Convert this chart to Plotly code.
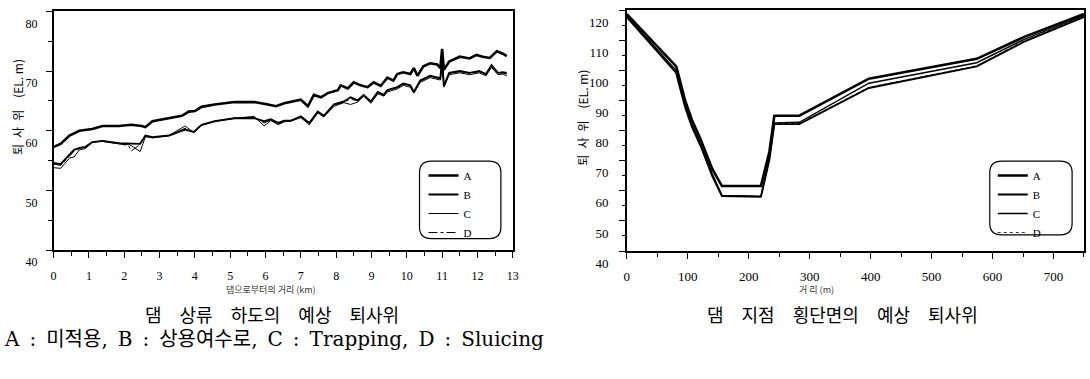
import plotly.graph_objects as go

W, H = 1090, 379


def px(x):
    return x / W


def py(y):
    return 1 - y / H


# ---------------- Left chart: predicted sediment level along the upstream channel
dist_A = [0.0, 0.2, 0.45, 0.73, 1.1, 1.38, 1.85, 2.2, 2.5, 2.6, 2.8, 3.27, 3.63, 3.83, 4.0,
          4.19, 4.56, 5.12, 5.68, 6.07, 6.3, 6.53, 6.72, 7.0, 7.2, 7.37, 7.57, 7.76, 8.05,
          8.13, 8.33, 8.5, 8.69, 8.89, 9.06, 9.26, 9.45, 9.62, 9.73, 9.9, 10.1, 10.2, 10.3,
          10.47, 10.66, 10.86, 10.95, 11.0, 11.05, 11.2, 11.5, 11.78, 11.97, 12.15, 12.35,
          12.55, 12.72, 12.83]
elev_A = [57.3, 57.8, 59.2, 60.0, 60.3, 60.8, 60.8, 61.0, 60.8, 60.6, 61.6, 62.1, 62.5, 63.2,
          63.3, 64.0, 64.4, 64.8, 64.8, 64.4, 64.1, 64.6, 64.8, 65.2, 64.1, 66.0, 65.6, 66.3,
          66.8, 67.6, 67.1, 68.1, 67.6, 67.3, 68.1, 67.5, 68.9, 68.4, 69.5, 69.8, 69.5, 70.5,
          69.2, 70.8, 71.3, 71.1, 70.5, 73.7, 70.2, 71.6, 72.4, 72.1, 72.7, 72.4, 72.2, 73.3,
          72.9, 72.5]

dist_BCD = [0.0, 0.2, 0.45, 0.58, 0.73, 0.9, 1.1, 1.38, 1.85, 2.13, 2.2, 2.45, 2.6, 2.8, 3.27,
            3.72, 3.97, 4.19, 4.56, 5.12, 5.68, 5.96, 6.15, 6.36, 6.53, 6.72, 7.0, 7.24, 7.48,
            7.65, 7.94, 8.22, 8.41, 8.61, 8.78, 8.98, 9.18, 9.35, 9.45, 9.73, 9.9, 10.1, 10.2,
            10.38, 10.66, 10.86, 10.95, 11.0, 11.05, 11.2, 11.5, 11.78, 12.05, 12.24, 12.4,
            12.58, 12.72, 12.83]
elev_B = [54.6, 54.4, 56.0, 56.8, 57.1, 57.3, 58.1, 58.3, 57.9, 57.8, 57.8, 57.8, 59.2, 58.9,
          59.2, 60.2, 59.8, 61.0, 61.6, 62.1, 62.1, 61.6, 61.9, 61.3, 61.7, 61.7, 62.4, 61.3,
          63.2, 62.5, 64.4, 64.9, 65.6, 65.1, 66.0, 64.9, 66.5, 66.0, 66.8, 67.3, 67.9, 67.6,
          66.5, 68.4, 69.2, 68.9, 68.8, 72.0, 67.5, 69.7, 70.0, 69.7, 70.0, 69.5, 71.0, 69.7,
          69.8, 69.7]
elev_C = [53.8, 53.7, 55.4, 55.6, 56.8, 57.0, 58.1, 58.2, 57.8, 57.7, 57.5, 56.5, 59.0, 58.8,
          59.2, 60.8, 59.7, 60.9, 61.5, 62.1, 62.4, 60.8, 61.7, 61.0, 61.5, 61.6, 62.2, 61.0,
          63.0, 62.3, 64.1, 64.7, 64.4, 64.8, 65.8, 64.6, 66.2, 65.8, 66.5, 67.0, 67.6, 67.3,
          66.3, 68.1, 68.9, 68.6, 68.5, 71.5, 67.3, 69.4, 69.7, 69.4, 69.7, 69.2, 70.6, 69.4,
          69.5, 69.2]
elev_D = [54.4, 54.2, 55.7, 56.6, 57.0, 57.2, 58.0, 58.3, 57.9, 57.4, 56.6, 57.7, 59.1, 58.9,
          59.2, 60.4, 59.8, 61.0, 61.6, 62.1, 62.2, 61.3, 61.8, 61.2, 61.6, 61.7, 62.3, 61.2,
          63.1, 62.4, 64.3, 64.8, 65.3, 65.0, 65.9, 64.8, 66.4, 65.9, 66.7, 67.2, 67.8, 67.5,
          66.4, 68.3, 69.1, 68.8, 68.7, 71.8, 67.4, 69.6, 69.9, 69.6, 69.9, 69.4, 70.8, 69.6,
          69.7, 69.5]

# ---------------- Right chart: predicted sediment level across the dam section
cross_x = [0, 81, 86, 96, 107, 121, 140, 156, 220, 234, 242, 283, 397, 574, 652, 750]
cross_A = [118.8, 101.4, 97.6, 89.8, 83.5, 77.2, 67.4, 61.6, 61.6, 73.1, 85.0, 85.0, 97.3,
           103.9, 111.2, 118.8]
cross_B = [117.8, 99.2, 95.2, 87.6, 81.2, 75.0, 65.0, 58.3, 58.0, 70.5, 82.2, 82.2, 94.2,
           101.4, 109.6, 117.8]
cross_C = [118.2, 100.0, 96.0, 88.4, 82.0, 75.8, 65.8, 58.5, 58.2, 71.0, 82.6, 82.8, 95.8,
           102.6, 110.4, 118.3]
cross_D = [117.9, 99.5, 95.5, 87.9, 81.5, 75.3, 65.3, 58.4, 58.1, 70.8, 82.3, 82.4, 94.4,
           101.6, 109.9, 117.9]

series_names = ["A", "B", "C", "D"]
left_styles = [dict(width=2.6), dict(width=1.9), dict(width=1.0), dict(width=1.0, dash="dashdot")]
right_styles = [dict(width=2.6), dict(width=1.9), dict(width=1.4), dict(width=0.8, dash="dot")]

fig = go.Figure()
for name, ys, xs, st in zip(series_names, [elev_A, elev_B, elev_C, elev_D],
                            [dist_A, dist_BCD, dist_BCD, dist_BCD], left_styles):
    fig.add_trace(go.Scatter(x=xs, y=ys, mode="lines", name=name,
                             line=dict(color="black", **st),
                             xaxis="x", yaxis="y", legend="legend"))
for name, ys, st in zip(series_names, [cross_A, cross_B, cross_C, cross_D], right_styles):
    fig.add_trace(go.Scatter(x=cross_x, y=ys, mode="lines", name=name,
                             line=dict(color="black", **st),
                             xaxis="x2", yaxis="y2", legend="legend2"))

serif = "Liberation Serif, Times New Roman, serif"
kfont = "Noto Sans CJK KR, sans-serif"

axis_common = dict(showline=True, linecolor="black", linewidth=1.6, mirror=True,
                   showgrid=False, zeroline=False, ticks="outside", tickcolor="black",
                   tickwidth=1.3, ticklen=6, ticklabeloverflow="allow")

fig.update_layout(
    width=W, height=H, autosize=False,
    margin=dict(l=0, r=0, t=0, b=0, pad=0),
    paper_bgcolor="white", plot_bgcolor="white",
    showlegend=True,
    xaxis=dict(domain=[px(51), px(514)], range=[0, 13], tickmode="linear", tick0=0, dtick=1,
               minor=dict(dtick=0.5, ticklen=4, tickcolor="black", ticks="outside"),
               tickfont=dict(family=serif, size=12, color="black"),
               ticklabelstandoff=8, anchor="y", **axis_common),
    yaxis=dict(domain=[py(264), py(12)], range=[40, 80], tickmode="linear", tick0=40, dtick=10,
               minor=dict(dtick=5, ticklen=4, tickcolor="black", ticks="outside"),
               tickfont=dict(family=serif, size=12, color="black"),
               ticklabelshift=12, ticklabelstandoff=6, anchor="x", **axis_common),
    xaxis2=dict(domain=[px(629), 1.0], range=[0, 750], tickmode="linear", tick0=0, dtick=100,
                minor=dict(dtick=50, ticklen=4, tickcolor="black", ticks="outside"),
                tickfont=dict(family=serif, size=13, color="black"),
                ticklabelstandoff=7, anchor="y2", **axis_common),
    yaxis2=dict(domain=[py(265), py(11)], range=[40, 120], tickmode="linear", tick0=40, dtick=10,
                minor=dict(dtick=5, ticklen=3, tickcolor="black", ticks="outside"),
                tickfont=dict(family=serif, size=13, color="black"),
                ticklabelshift=12, ticklabelstandoff=8, anchor="x2", **axis_common),
    legend=dict(x=px(424), y=py(170), xanchor="left", yanchor="top",
                bgcolor="rgba(0,0,0,0)", borderwidth=0, tracegroupgap=0,
                font=dict(family=serif, size=11, color="black")),
    legend2=dict(x=px(998), y=py(170), xanchor="left", yanchor="top",
                 bgcolor="rgba(0,0,0,0)", borderwidth=0, tracegroupgap=0,
                 font=dict(family=serif, size=11, color="black")),
)


def rounded_box(x0, y0, x1, y1, r=12):
    X0, X1 = px(x0), px(x1)
    Y0, Y1 = py(y0), py(y1)
    rx, ry = r / W, r / H
    path = (f"M{X0 + rx},{Y0} L{X1 - rx},{Y0} Q{X1},{Y0} {X1},{Y0 - ry} "
            f"L{X1},{Y1 + ry} Q{X1},{Y1} {X1 - rx},{Y1} L{X0 + rx},{Y1} "
            f"Q{X0},{Y1} {X0},{Y1 + ry} L{X0},{Y0 - ry} Q{X0},{Y0} {X0 + rx},{Y0} Z")
    return dict(type="path", xref="paper", yref="paper", path=path,
                line=dict(color="black", width=1.2), fillcolor="rgba(0,0,0,0)")


fig.add_shape(rounded_box(420, 170, 502, 252))
fig.add_shape(rounded_box(995, 170, 1078, 248))

EM = "\u2003"
EN = "\u2002"
ytitle = f"퇴{EN}사{EN}위{EM}(EL. m)"
annos = [
    dict(x=px(14), y=py(113), text=ytitle, textangle=-90,
         font=dict(family=kfont, size=12, color="black")),
    dict(x=px(584), y=py(124), text=ytitle, textangle=-90,
         font=dict(family=kfont, size=12, color="black")),
    dict(x=px(270), y=py(306), text="댐으로부터의 거리 (km)",
         font=dict(family=kfont, size=9, color="#333"), borderpad=0),
    dict(x=px(820), y=py(306), text="거 리 (m)",
         font=dict(family=kfont, size=9, color="#333"), borderpad=0),
    dict(x=px(271), y=py(331), text=EM.join(["댐", "상류", "하도의", "예상", "퇴사위"]),
         font=dict(family=kfont, size=18, color="black"), borderpad=0),
    dict(x=px(846), y=py(331), text=EM.join(["댐", "지점", "횡단면의", "예상", "퇴사위"]),
         font=dict(family=kfont, size=18, color="black"), borderpad=0),
    dict(x=0, y=py(358), xanchor="left",
         text=f"A{EN}:{EN}미적용,{EN}B{EN}:{EN}상용여수로,{EN}C{EN}:{EN}Trapping,{EN}D{EN}:{EN}Sluicing",
         font=dict(family="DejaVu Serif, Noto Sans CJK KR, serif", size=20, color="black"),
         borderpad=0),
]
for a in annos:
    a.update(xref="paper", yref="paper", showarrow=False)
    a.setdefault("xanchor", "center")
    a.setdefault("yanchor", "middle")
    fig.add_annotation(**a)

fig.write_html("out.html", config={"displayModeBar": False, "responsive": False},
               post_script="document.body.style.margin='0px';document.body.style.overflow='hidden';")
